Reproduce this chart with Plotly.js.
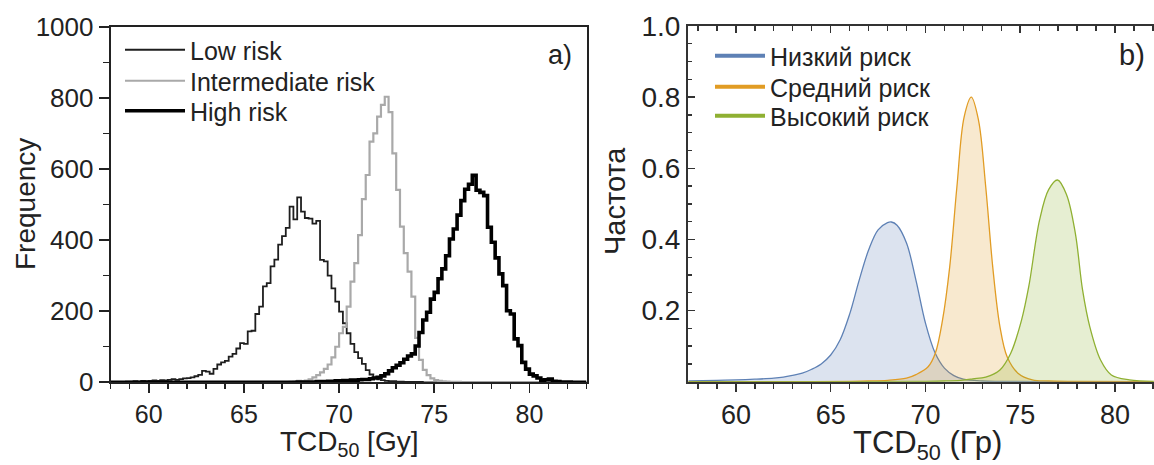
<!DOCTYPE html>
<html>
<head>
<meta charset="utf-8">
<script src="https://cdn.plot.ly/plotly-3.0.1.min.js"></script>
<style>
html,body{margin:0;padding:0;background:#fff;}
#chart{width:1154px;height:465px;}
</style>
</head>
<body>
<div id="chart"></div>
<script>
// ---------- Panel a: histograms (bins of 0.2 Gy starting at 58.0 Gy) ----------
const binStart = 58.0;
const binWidth = 0.2;
const seriesNamesA = ['Low risk', 'Intermediate risk', 'High risk'];

const lowRisk = [
  0,1,1,1,2,      // 58
  2,3,2,4,3,      // 59
  4,5,4,6,5,      // 60
  7,9,7,9,11,     // 61
  12,14,17,21,32, // 62
  30,24,38,50,56, // 63
  60,72,80,95,110,        // 64
  108,143,145,192,213,    // 65
  270,279,326,345,387,    // 66
  411,434,494,458,520,    // 67
  480,462,460,446,454,    // 68
  344,340,300,264,227,    // 69
  199,166,138,108,85,     // 70
  68,52,34,22,13,         // 71
  8,6,4,3,3,              // 72
  2,2,1,1,1,              // 73
  1,1,0,0,0,              // 74
  0,0,0,0,0, 0,0,0,0,0, 0,0,0,0,0, 0,0,0,0,0,
  0,0,0,0,0, 0,0,0,0,0, 0,0,0,0,0, 0,0,0,0,0   // 75-82
];

const intermediateRisk = [
  0,0,0,0,0, 0,0,0,0,0, 0,0,0,0,0, 0,0,0,0,0, 0,0,0,0,0,   // 58-62
  0,0,0,0,0, 0,0,0,0,0, 0,0,0,0,0, 0,0,0,0,0,              // 63-66
  0,0,1,2,4,              // 67
  3,5,8,14,20,            // 68
  28,38,50,70,100,        // 69
  138,156,213,283,335,    // 70
  414,515,583,677,700,    // 71
  747,780,803,760,644,    // 72
  541,438,363,311,241,    // 73
  125,63,35,20,11,        // 74
  6,4,3,2,1,              // 75
  1,1,0,0,0,              // 76
  0,0,0,0,0, 0,0,0,0,0, 0,0,0,0,0, 0,0,0,0,0, 0,0,0,0,0, 0,0,0,0,0  // 77-82
];

const highRisk = [
  0,0,0,0,0, 0,0,0,0,0, 0,0,0,0,0, 0,0,0,0,0, 0,0,0,0,0,   // 58-62
  0,0,0,0,0, 0,0,0,0,0, 0,0,0,0,0, 0,0,0,0,0,              // 63-66
  0,0,0,0,1,              // 67
  1,1,1,1,2,              // 68
  2,2,3,3,4,              // 69
  4,5,5,6,5,              // 70
  7,8,8,10,12,            // 71
  14,18,24,32,41,         // 72
  48,55,65,74,80,         // 73
  102,140,175,197,234,    // 74
  253,291,319,356,403,    // 75
  431,470,511,543,557,    // 76
  582,540,534,525,436,    // 77
  394,350,305,272,201,    // 78
  192,122,103,56,37,      // 79
  23,18,12,6,7,           // 80
  9,3,2,1,1,              // 81
  1,0,0,0,0               // 82
];

// ---------- Panel b: smoothed frequency curves ----------
const seriesNamesB = ['Низкий риск', 'Средний риск', 'Высокий риск'];

const lowCurveX = [57.5, 59, 60, 61, 62, 62.5, 63, 63.5, 64, 64.5, 65, 65.5, 66, 66.5, 67, 67.5, 68, 68.2, 68.5, 69, 69.5, 70, 70.5, 71, 71.5, 72, 73, 74, 76, 82];
const lowCurveY = [0.002, 0.004, 0.005, 0.007, 0.010, 0.013, 0.018, 0.024, 0.035, 0.050, 0.075, 0.118, 0.190, 0.285, 0.370, 0.427, 0.447, 0.449, 0.440, 0.390, 0.285, 0.165, 0.082, 0.038, 0.017, 0.007, 0.002, 0.001, 0.0, 0.0];

const midCurveX = [57.5, 64, 66, 67, 68, 69, 69.5, 70.14, 70.52, 70.9, 71.28, 71.66, 72.04, 72.42, 72.8, 73.18, 73.55, 73.93, 74.31, 74.88, 75.64, 76.5, 78, 82];
const midCurveY = [0.0, 0.0, 0.001, 0.002, 0.004, 0.010, 0.020, 0.042, 0.080, 0.173, 0.323, 0.548, 0.744, 0.800, 0.735, 0.548, 0.323, 0.155, 0.070, 0.024, 0.005, 0.002, 0.001, 0.0];

const highCurveX = [57.5, 66, 70, 71, 71.85, 72.5, 73.18, 73.93, 74.5, 75.07, 75.45, 76.02, 76.5, 76.97, 77.45, 77.91, 78.29, 78.67, 79.24, 79.81, 80.76, 82.06];
const highCurveY = [0.0, 0.0, 0.001, 0.002, 0.004, 0.008, 0.013, 0.033, 0.080, 0.173, 0.267, 0.454, 0.540, 0.567, 0.525, 0.417, 0.258, 0.155, 0.061, 0.019, 0.005, 0.001];

// ---------- build ----------
const legendIdsA = ['legend', 'legend3', 'legend4'];
const legendIdsB = ['legend2', 'legend5', 'legend6'];

function histTrace(vals, i, color, width) {
  const xs = [], ys = [];
  for (let k = 0; k < vals.length; k++) {
    xs.push(+(binStart + k * binWidth).toFixed(2));
    ys.push(vals[k]);
  }
  xs.push(+(binStart + vals.length * binWidth).toFixed(2));
  ys.push(vals[vals.length - 1]);
  return {
    x: xs, y: ys, type: 'scatter', mode: 'lines', name: seriesNamesA[i],
    line: {shape: 'hv', color: color, width: width},
    xaxis: 'x', yaxis: 'y', legend: legendIdsA[i], hoverinfo: 'skip'
  };
}

const colorsB = ['#5E81B5', '#E19C24', '#8FB032'];
const fillsB = ['rgba(94,129,181,0.22)', 'rgba(225,156,36,0.22)', 'rgba(143,176,50,0.22)'];

function curveTrace(xs, ys, i) {
  return {
    x: xs, y: ys, type: 'scatter', mode: 'lines', showlegend: false,
    line: {shape: 'spline', smoothing: 1, color: colorsB[i], width: 1.3},
    fill: 'tozeroy', fillcolor: fillsB[i],
    xaxis: 'x2', yaxis: 'y2', hoverinfo: 'skip'
  };
}
function legendTraceB(i) {
  return {
    x: [null], y: [null], type: 'scatter', mode: 'lines', name: seriesNamesB[i],
    line: {color: colorsB[i], width: 4},
    xaxis: 'x2', yaxis: 'y2', legend: legendIdsB[i], hoverinfo: 'skip'
  };
}

const traces = [
  histTrace(lowRisk, 0, '#1e1e1e', 1.8),
  histTrace(intermediateRisk, 1, '#a9a9a9', 2.2),
  histTrace(highRisk, 2, '#000000', 3.6),
  curveTrace(lowCurveX, lowCurveY, 0),
  curveTrace(midCurveX, midCurveY, 1),
  curveTrace(highCurveX, highCurveY, 2),
  legendTraceB(0), legendTraceB(1), legendTraceB(2),
  {x: [null], y: [null], type: 'scatter', mode: 'lines', xaxis: 'x3', yaxis: 'y2', showlegend: false, hoverinfo: 'skip'}
];

const FONT = 'Liberation Sans, Arial, sans-serif';
const W = 1154, H = 465;
const px = v => v / W;
const py = v => (H - v) / H;

function legendBox(xLeft, yCenter, size, itemW) {
  return {
    x: px(xLeft), y: py(yCenter), xanchor: 'left', yanchor: 'middle',
    bgcolor: 'rgba(0,0,0,0)', borderwidth: 0, tracegroupgap: 0,
    itemwidth: itemW,
    font: {size: size, color: '#222', family: FONT}
  };
}

const layout = {
  width: W, height: H,
  margin: {l: 0, r: 0, t: 0, b: 0},
  paper_bgcolor: '#fff', plot_bgcolor: 'rgba(0,0,0,0)',
  font: {family: FONT, color: '#222'},
  showlegend: true,
  xaxis: {
    domain: [px(110.7), px(586.5)], range: [58, 83], anchor: 'y',
    tick0: 60, dtick: 5, ticks: 'outside', ticklen: 9, tickwidth: 1.6, tickcolor: '#222',
    minor: {dtick: 1, tick0: 0, ticks: 'outside', ticklen: 5, tickwidth: 1.4, tickcolor: '#222'},
    showline: true, linewidth: 2, linecolor: '#222', mirror: true,
    showgrid: false, zeroline: false, tickfont: {size: 25, color: '#222'}
  },
  yaxis: {
    domain: [py(382.3), py(26.7)], range: [0, 1000], anchor: 'x',
    tick0: 0, dtick: 200, ticks: 'outside', ticklen: 10, tickwidth: 1.6, tickcolor: '#222',
    minor: {dtick: 100, ticks: 'outside', ticklen: 6, tickwidth: 1.4, tickcolor: '#222'},
    showline: true, linewidth: 2, linecolor: '#222', mirror: true,
    showgrid: false, zeroline: false, tickfont: {size: 26, color: '#222'}
  },
  xaxis2: {
    domain: [px(688), 1], range: [57.47, 82.06], anchor: 'y2',
    tick0: 60, dtick: 5, ticks: 'outside', ticklen: 8, tickwidth: 1.5, tickcolor: '#333',
    minor: {dtick: 1, tick0: 0, ticks: 'outside', ticklen: 5, tickwidth: 1.3, tickcolor: '#333'},
    showline: true, linewidth: 2, linecolor: '#333',
    showgrid: false, zeroline: false, tickfont: {size: 27, color: '#222'}
  },
  xaxis3: {
    overlaying: 'x2', side: 'top', anchor: 'y2', range: [57.47, 82.06],
    tick0: 60, dtick: 5, ticks: 'inside', ticklen: 7, tickwidth: 1.5, tickcolor: '#333',
    minor: {dtick: 1, tick0: 0, ticks: 'inside', ticklen: 5, tickwidth: 1.3, tickcolor: '#333'},
    showline: true, linewidth: 2, linecolor: '#333',
    showticklabels: false, showgrid: false, zeroline: false
  },
  yaxis2: {
    domain: [py(381.7), py(26)], range: [0, 1], anchor: 'x2',
    tickvals: [0.2, 0.4, 0.6, 0.8, 1.0], ticktext: ['0.2', '0.4', '0.6', '0.8', '1.0'],
    ticks: 'inside', ticklen: 7, tickwidth: 1.5, tickcolor: '#333',
    minor: {dtick: 0.05, tick0: 0, ticks: 'inside', ticklen: 4, tickwidth: 1.3, tickcolor: '#333'},
    showline: true, linewidth: 2, linecolor: '#333',
    showgrid: false, zeroline: false, tickfont: {size: 28, color: '#222'}
  },
  legend:  legendBox(120, 50, 25, 60),
  legend3: legendBox(120, 81, 25, 60),
  legend4: legendBox(120, 111, 25, 60),
  legend2: legendBox(710, 56, 25, 50),
  legend5: legendBox(710, 87, 25, 50),
  legend6: legendBox(710, 116, 25, 50),
  annotations: [
    {text: 'Frequency', xref: 'paper', yref: 'paper', x: px(25), y: py(204), textangle: -90,
     showarrow: false, xanchor: 'center', yanchor: 'middle', font: {size: 28, color: '#222'}},
    {text: 'TCD<sub>50</sub> [Gy]', xref: 'paper', yref: 'paper', x: px(349), y: py(443),
     showarrow: false, xanchor: 'center', yanchor: 'middle', font: {size: 28, color: '#222'}},
    {text: 'a)', xref: 'paper', yref: 'paper', x: px(560), y: py(55),
     showarrow: false, xanchor: 'center', yanchor: 'middle', font: {size: 27, color: '#222'}},
    {text: 'Частота', xref: 'paper', yref: 'paper', x: px(615), y: py(201), textangle: -90,
     showarrow: false, xanchor: 'center', yanchor: 'middle', font: {size: 29, color: '#222'}},
    {text: 'TCD<sub>50</sub> (Гр)', xref: 'paper', yref: 'paper', x: px(927), y: py(445),
     showarrow: false, xanchor: 'center', yanchor: 'middle', font: {size: 31, color: '#222'}},
    {text: 'b)', xref: 'paper', yref: 'paper', x: px(1132), y: py(55),
     showarrow: false, xanchor: 'center', yanchor: 'middle', font: {size: 29, color: '#222'}}
  ]
};

Plotly.newPlot('chart', traces, layout, {displayModeBar: false, staticPlot: true});
</script>
</body>
</html>
